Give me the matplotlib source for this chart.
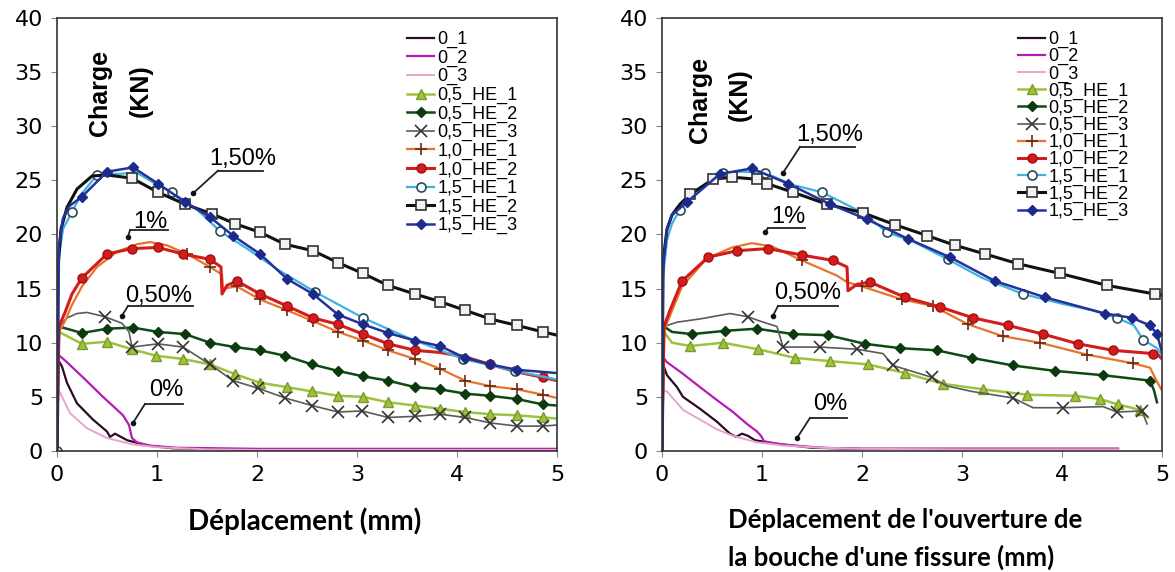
import matplotlib
matplotlib.use("Agg")
import matplotlib.pyplot as plt

labels = ["0_1", "0_2", "0_3", "0,5_HE_1", "0,5_HE_2", "0,5_HE_3",
          "1,0_HE_1", "1,0_HE_2", "1,5_HE_1", "1,5_HE_2", "1,5_HE_3"]
xticks = [0, 1, 2, 3, 4, 5]
yticks = [0, 5, 10, 15, 20, 25, 30, 35, 40]
left_xlabel = "Déplacement (mm)"
right_xlabel = "Déplacement de l'ouverture de\nla bouche d'une fissure (mm)"

# ---- left panel : load vs displacement ----
l01_x = [0, 0.0, 0.05, 0.10, 0.20, 0.36, 0.50, 0.53, 0.58, 0.70, 0.90, 1.16, 2.0, 3.0, 4.0, 5.0]
l01_y = [0, 8.6, 7.8, 6.3, 4.4, 2.9, 1.8, 1.3, 1.6, 1.0, 0.5, 0.25, 0.1, 0.1, 0.1, 0.1]
l02_x = [0, 0.0, 0.10, 0.26, 0.46, 0.66, 0.72, 0.75, 0.80, 0.93, 1.2, 2.0, 3.0, 4.0, 5.0]
l02_y = [0, 9.0, 8.2, 6.8, 5.0, 3.3, 2.4, 1.2, 0.8, 0.5, 0.3, 0.2, 0.2, 0.2, 0.2]
l03_x = [0, 0.0, 0.03, 0.13, 0.30, 0.50, 0.76, 1.0, 1.5, 2.0, 3.0, 4.0, 5.0]
l03_y = [0, 5.8, 5.4, 3.5, 2.1, 1.2, 0.6, 0.35, 0.15, 0.1, 0.1, 0.1, 0.1]
l051_x = [0, 0.02, 0.25, 0.50, 0.75, 0.99, 1.26, 1.53, 1.78, 2.03, 2.30, 2.55, 2.81, 3.06, 3.31, 3.58, 3.83, 4.08, 4.33, 4.60, 4.86, 5.0]
l051_y = [0, 11.0, 9.9, 10.1, 9.4, 8.8, 8.5, 8.0, 7.1, 6.3, 5.9, 5.5, 5.1, 5.0, 4.5, 4.2, 3.9, 3.6, 3.4, 3.3, 3.1, 3.0]
l052_x = [0, 0.02, 0.25, 0.50, 0.76, 1.01, 1.28, 1.53, 1.78, 2.03, 2.28, 2.55, 2.81, 3.06, 3.31, 3.58, 3.83, 4.08, 4.33, 4.60, 4.86, 5.0]
l052_y = [0, 11.5, 10.9, 11.3, 11.4, 11.0, 10.8, 10.0, 9.6, 9.3, 8.8, 8.0, 7.4, 6.9, 6.5, 5.9, 5.7, 5.3, 5.1, 4.8, 4.3, 4.2]
l053_x = [0, 0.02, 0.10, 0.20, 0.30, 0.48, 0.65, 0.72, 0.75, 1.01, 1.26, 1.53, 1.76, 2.01, 2.28, 2.55, 2.81, 3.05, 3.31, 3.58, 3.83, 4.08, 4.33, 4.60, 4.86, 5.0]
l053_y = [0, 11.5, 12.3, 12.7, 12.8, 12.4, 11.8, 11.0, 9.6, 9.9, 9.6, 8.0, 6.5, 5.8, 4.9, 4.2, 3.6, 3.7, 3.1, 3.2, 3.4, 3.1, 2.6, 2.3, 2.3, 2.4]
l101_x = [0, 0.02, 0.08, 0.15, 0.25, 0.40, 0.60, 0.80, 0.93, 1.10, 1.30, 1.53, 1.65, 1.66, 1.80, 2.03, 2.30, 2.56, 2.81, 3.06, 3.31, 3.58, 3.83, 4.08, 4.33, 4.60, 4.86, 5.0]
l101_y = [0, 11.0, 12.0, 13.5, 15.2, 17.0, 18.4, 19.1, 19.3, 19.0, 18.2, 17.0, 16.3, 15.0, 15.2, 14.0, 13.0, 12.0, 11.0, 10.2, 9.3, 8.5, 7.6, 6.5, 6.0, 5.7, 5.2, 4.9]
l102_x = [0, 0.02, 0.08, 0.15, 0.25, 0.50, 0.75, 1.01, 1.26, 1.53, 1.64, 1.65, 1.70, 1.80, 2.03, 2.30, 2.56, 2.81, 3.06, 3.31, 3.58, 3.83, 4.08, 4.33, 4.60, 4.86, 5.0]
l102_y = [0, 11.5, 12.8, 14.5, 16.0, 18.2, 18.7, 18.8, 18.2, 17.7, 17.0, 14.5, 15.3, 15.7, 14.5, 13.4, 12.3, 11.7, 10.8, 9.9, 9.3, 9.1, 8.7, 8.0, 7.3, 6.8, 6.5]
l151_x = [0, 0.0, 0.02, 0.06, 0.15, 0.25, 0.40, 0.60, 0.80, 1.00, 1.15, 1.40, 1.63, 1.90, 2.20, 2.58, 3.06, 3.50, 4.06, 4.58, 5.0]
l151_y = [0, 15.0, 18.0, 20.5, 22.1, 23.8, 25.5, 25.6, 25.7, 24.6, 23.9, 22.3, 20.3, 18.7, 16.8, 14.7, 12.3, 10.5, 8.5, 7.4, 6.6]
l152_x = [0, 0.01, 0.04, 0.10, 0.20, 0.35, 0.50, 0.75, 1.01, 1.28, 1.55, 1.78, 2.03, 2.28, 2.56, 2.81, 3.06, 3.31, 3.58, 3.83, 4.08, 4.33, 4.60, 4.86, 5.0]
l152_y = [0, 17.0, 20.5, 22.5, 24.2, 25.4, 25.5, 25.2, 23.9, 22.8, 21.9, 21.0, 20.2, 19.1, 18.5, 17.4, 16.4, 15.3, 14.5, 13.8, 13.0, 12.2, 11.6, 11.0, 10.7]
l153_x = [0, 0.02, 0.06, 0.12, 0.25, 0.50, 0.76, 1.01, 1.28, 1.53, 1.76, 2.03, 2.30, 2.56, 2.81, 3.06, 3.31, 3.58, 3.83, 4.08, 4.33, 4.60, 5.0]
l153_y = [0, 19.0, 21.5, 22.6, 23.5, 25.8, 26.2, 24.7, 23.0, 21.6, 19.9, 18.2, 15.9, 14.5, 12.6, 11.7, 10.9, 10.2, 9.7, 8.6, 8.0, 7.5, 7.2]

# ---- right panel : load vs crack mouth opening ----
r01_x = [0, 0.0, 0.05, 0.15, 0.21, 0.38, 0.55, 0.68, 0.74, 0.80, 0.86, 0.93, 1.11, 1.5, 2.0, 3.0, 4.0, 4.56]
r01_y = [0, 8.3, 7.0, 5.9, 5.0, 3.9, 2.7, 1.6, 1.3, 1.6, 1.4, 1.0, 0.7, 0.3, 0.2, 0.2, 0.2, 0.2]
r02_x = [0, 0.0, 0.05, 0.20, 0.38, 0.55, 0.71, 0.85, 0.95, 0.99, 1.02, 1.2, 1.6, 2.0, 3.0, 4.0, 4.56]
r02_y = [0, 8.8, 8.2, 7.2, 5.9, 4.7, 3.6, 2.5, 1.8, 1.4, 0.9, 0.6, 0.3, 0.2, 0.2, 0.2, 0.2]
r03_x = [0, 0.0, 0.05, 0.21, 0.38, 0.55, 0.71, 0.95, 1.21, 1.6, 2.0, 3.0, 4.0, 4.56]
r03_y = [0, 5.6, 5.5, 3.8, 2.9, 2.0, 1.4, 0.8, 0.5, 0.3, 0.2, 0.15, 0.15, 0.15]
r051_x = [0, 0.02, 0.10, 0.28, 0.61, 0.96, 1.33, 1.68, 2.06, 2.43, 2.81, 3.21, 3.65, 4.13, 4.38, 4.56, 4.78, 4.86]
r051_y = [0, 11.0, 10.0, 9.7, 10.0, 9.4, 8.6, 8.3, 8.0, 7.2, 6.2, 5.7, 5.2, 5.1, 4.8, 4.3, 3.8, 3.1]
r052_x = [0, 0.02, 0.10, 0.30, 0.63, 0.95, 1.31, 1.66, 2.03, 2.38, 2.75, 3.10, 3.51, 3.93, 4.41, 4.88, 4.92, 4.95]
r052_y = [0, 11.5, 11.0, 10.8, 11.1, 11.3, 10.8, 10.7, 9.9, 9.5, 9.3, 8.6, 7.9, 7.4, 7.0, 6.5, 5.6, 4.5]
r053_x = [0, 0.02, 0.15, 0.38, 0.68, 0.86, 0.98, 1.15, 1.21, 1.58, 1.95, 2.21, 2.31, 2.70, 2.85, 3.10, 3.51, 3.71, 4.01, 4.41, 4.55, 4.80, 4.85]
r053_y = [0, 11.5, 11.9, 12.2, 12.7, 12.4, 12.0, 11.5, 9.6, 9.6, 9.4, 9.0, 7.9, 6.8, 6.0, 5.5, 4.9, 4.0, 4.0, 4.1, 3.6, 3.7, 2.5]
r101_x = [0, 0.02, 0.08, 0.20, 0.45, 0.70, 0.90, 1.10, 1.40, 1.75, 1.85, 2.00, 2.40, 2.71, 3.06, 3.41, 3.78, 4.25, 4.71, 4.88, 4.95, 5.0]
r101_y = [0, 11.2, 12.5, 15.2, 17.8, 18.8, 19.2, 18.9, 17.6, 16.2, 15.6, 15.2, 14.0, 13.4, 11.7, 10.6, 10.0, 8.9, 8.1, 7.7, 6.4, 5.6]
r102_x = [0, 0.02, 0.08, 0.20, 0.46, 0.75, 1.06, 1.40, 1.71, 1.85, 1.86, 1.95, 2.08, 2.43, 2.78, 3.11, 3.46, 3.81, 4.16, 4.51, 4.91, 4.97, 5.0]
r102_y = [0, 11.5, 13.0, 15.7, 17.9, 18.5, 18.7, 18.1, 17.6, 17.0, 14.8, 15.4, 15.6, 14.2, 13.3, 12.3, 11.6, 10.8, 9.9, 9.3, 9.0, 8.8, 8.5]
r151_x = [0, 0.01, 0.05, 0.10, 0.18, 0.30, 0.61, 0.80, 1.03, 1.30, 1.60, 2.01, 2.25, 2.50, 2.86, 3.20, 3.61, 4.00, 4.30, 4.55, 4.72, 4.81, 4.95, 5.0]
r151_y = [0, 16.0, 19.5, 21.0, 22.3, 23.8, 25.7, 25.8, 25.7, 24.6, 23.9, 22.0, 20.2, 19.4, 17.7, 16.0, 14.5, 13.6, 13.0, 12.3, 11.6, 10.3, 9.5, 8.8]
r152_x = [0, 0.01, 0.05, 0.10, 0.18, 0.28, 0.51, 0.70, 0.95, 1.05, 1.31, 1.65, 2.01, 2.33, 2.65, 2.93, 3.23, 3.56, 3.98, 4.45, 4.93, 5.0]
r152_y = [0, 17.5, 20.5, 21.8, 22.8, 23.7, 25.1, 25.3, 25.1, 24.7, 23.9, 22.8, 22.0, 20.9, 19.9, 19.0, 18.2, 17.3, 16.4, 15.3, 14.5, 14.4]
r153_x = [0, 0.01, 0.05, 0.10, 0.25, 0.58, 0.90, 1.26, 1.68, 2.05, 2.46, 2.88, 3.33, 3.83, 4.43, 4.70, 4.88, 4.95, 5.0]
r153_y = [0, 17.0, 20.5, 21.8, 23.0, 25.6, 26.1, 24.7, 22.8, 21.4, 19.6, 17.9, 15.7, 14.2, 12.7, 12.3, 11.6, 10.8, 9.1]

left_series = [(l01_x, l01_y), (l02_x, l02_y), (l03_x, l03_y), (l051_x, l051_y), (l052_x, l052_y),
               (l053_x, l053_y), (l101_x, l101_y), (l102_x, l102_y), (l151_x, l151_y),
               (l152_x, l152_y), (l153_x, l153_y)]
right_series = [(r01_x, r01_y), (r02_x, r02_y), (r03_x, r03_y), (r051_x, r051_y), (r052_x, r052_y),
                (r053_x, r053_y), (r101_x, r101_y), (r102_x, r102_y), (r151_x, r151_y),
                (r152_x, r152_y), (r153_x, r153_y)]

# which points carry a marker
left_marks = [[], [], [], list(range(2, 21)), list(range(2, 21)), [5] + list(range(8, 25)),
              [10, 11] + list(range(14, 27)), list(range(4, 10)) + list(range(13, 21)) + [23, 25],
              [0, 4, 6, 10, 12, 15, 16, 18, 19], list(range(7, 24)), list(range(4, 22))]
right_marks = [[], [], [], list(range(3, 17)), list(range(3, 16)), [5, 8, 9, 10, 12, 13, 16, 18, 20, 21],
               [8] + list(range(11, 19)), list(range(3, 9)) + list(range(12, 21)),
               [4, 6, 8, 10, 11, 12, 14, 16, 19, 21], list(range(5, 21)), list(range(4, 18))]

styles = {
    "0_1":      dict(color="#2b0b26", lw=1.6),
    "0_2":      dict(color="#b41cb4", lw=1.6),
    "0_3":      dict(color="#e6a6cc", lw=1.4),
    "0,5_HE_1": dict(color="#9dc23b", lw=1.8, marker="^", ms=6.5, mfc="#9dc23b", mec="#7a9a2a"),
    "0,5_HE_2": dict(color="#0f4a12", lw=1.8, marker="D", ms=5.5, mfc="#0c3a0e", mec="#0c3a0e"),
    "0,5_HE_3": dict(color="#5a5a5a", lw=1.2, marker="x", ms=8, mec="#333333", mew=1.2),
    "1,0_HE_1": dict(color="#e8742c", lw=1.6, marker="+", ms=8, mec="#6a2a10", mew=1.2),
    "1,0_HE_2": dict(color="#d41c1c", lw=2.2, marker="o", ms=6.5, mfc="#d41c1c", mec="#a01010"),
    "1,5_HE_1": dict(color="#3fb2e2", lw=1.6, marker="o", ms=6.5, mfc="white", mec="#2a4a5a", mew=1.2),
    "1,5_HE_2": dict(color="#111111", lw=2.2, marker="s", ms=6.5, mfc="#f2f2f2", mec="#333333", mew=1.2),
    "1,5_HE_3": dict(color="#24339a", lw=1.8, marker="D", ms=5, mfc="#1c2a8c", mec="#1c2a8c"),
}

# annotations: label, text centre, underline x0/x1/y, dot position
left_notes = [("1,50%", (1.86, 27.0), 1.61, 2.06, 25.9, (1.36, 23.8)),
              ("1%", (0.93, 21.2), 0.73, 1.11, 20.4, (0.71, 19.8)),
              ("0,50%", (1.02, 14.3), 0.71, 1.36, 13.4, (0.65, 12.5)),
              ("0%", (1.09, 5.65), 0.88, 1.26, 4.35, (0.76, 2.6))]
right_notes = [("1,50%", (1.68, 29.2), 1.38, 1.93, 28.1, (1.21, 25.7)),
               ("1%", (1.26, 21.6), 1.06, 1.43, 20.6, (1.03, 20.2)),
               ("0,50%", (1.46, 14.6), 1.16, 1.76, 13.4, (1.11, 12.5)),
               ("0%", (1.68, 4.35), 1.48, 1.85, 3.06, (1.35, 1.2))]

fig = plt.figure(figsize=(11.75, 5.72), dpi=100)
axL = fig.add_axes([57 / 1175, 1 - 451 / 572, 500 / 1175, 433 / 572])
axR = fig.add_axes([662 / 1175, 1 - 451 / 572, 500 / 1175, 433 / 572])


def draw_panel(ax, series, marks, notes, leg_x, leg_space, charge_xy, kn_xy):
    for lab, (xs, ys), mk in zip(labels, series, marks):
        st = dict(styles[lab])
        if mk:
            st["markevery"] = mk
        ax.plot(xs, ys, label=lab, **st)
    for txt, (tx, ty), u0, u1, uy, (dx, dy) in notes:
        ax.text(tx, ty, txt, ha="center", va="center", fontsize=17, family="Liberation Sans")
        ax.plot([u0, u1], [uy, uy], color="#222222", lw=1.3)
        ax.plot([u0, dx], [uy, dy], color="#222222", lw=1.3)
        ax.plot([dx], [dy], "o", color="#111111", ms=3)
    ax.text(charge_xy[0], charge_xy[1], "Charge", rotation=90, ha="center", va="center",
            fontsize=18, fontweight="bold", family="Liberation Sans")
    ax.text(kn_xy[0], kn_xy[1], "(KN)", rotation=90, ha="center", va="center",
            fontsize=18, fontweight="bold", family="Liberation Sans")
    ax.set_xlim(0, 5)
    ax.set_ylim(0, 40)
    ax.set_xticks(xticks)
    ax.set_yticks(yticks)
    ax.tick_params(direction="out", length=4, width=0.8, color="#888888", labelsize=16, pad=6)
    for sp in ax.spines.values():
        sp.set_linewidth(1.2)
        sp.set_color("#333333")
    ax.legend(loc="upper left", bbox_to_anchor=(leg_x, 0.97), frameon=False, borderpad=0,
              borderaxespad=0, handlelength=1.5, handletextpad=0.2, labelspacing=leg_space,
              prop={"family": "Liberation Sans", "size": 13})


draw_panel(axL, left_series, left_marks, left_notes, 0.70, 0.08, (0.43, 33.1), (0.84, 33.3))
draw_panel(axR, right_series, right_marks, right_notes, 0.712, 0.0, (0.38, 32.4), (0.78, 32.9))

fig.text(305 / 1175, 1 - 521 / 572, left_xlabel, ha="center", va="center",
         fontsize=20, fontweight="bold", family="Lato")
fig.text(728 / 1175, 1 - 539 / 572, right_xlabel, ha="left", va="center",
         fontsize=18.5, fontweight="bold", family="Lato", linespacing=1.6)

fig.savefig("out.png", dpi=100)
